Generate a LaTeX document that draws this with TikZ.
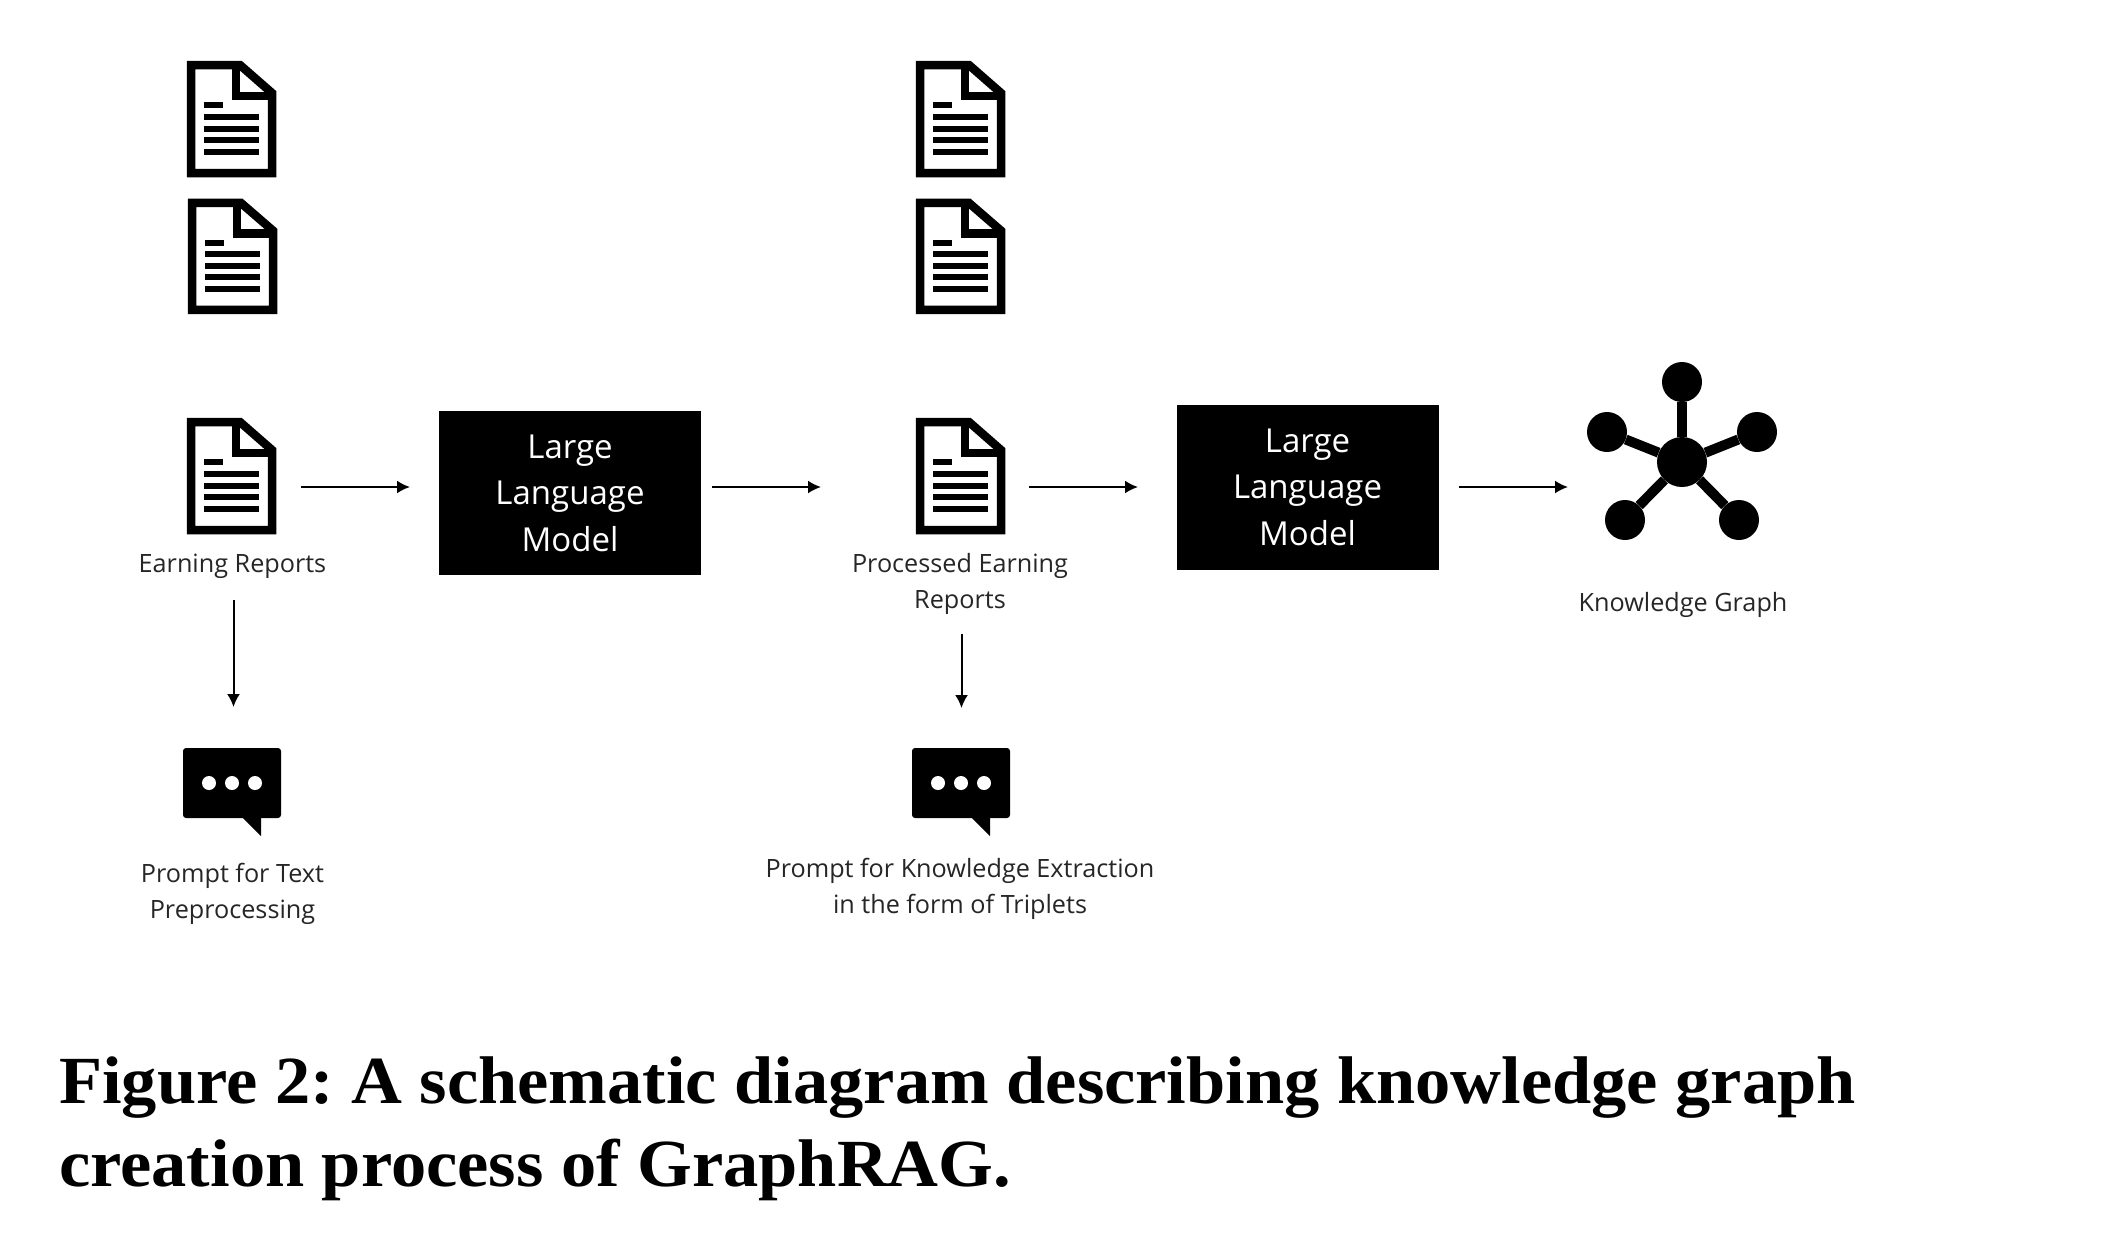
\documentclass[tikz,border=0pt]{standalone}
\usepackage{fontspec}
\setmainfont{Liberation Serif}
\newfontfamily\lab{Open Sans}
\newfontfamily\capfont[FakeStretch=1.045]{Liberation Serif}
\usetikzlibrary{arrows.meta}
\tikzset{
  x=1pt,y=-1pt,
  lbl/.style={font=\lab\fontsize{25.2}{36}\selectfont,text=black!85,align=center,inner sep=0pt,anchor=center},
  llm/.style={fill=black,text=white,font=\lab\fontsize{33}{46.5}\selectfont,align=center,inner sep=0pt},
  arr/.style={line width=2pt,-{Latex[length=13pt,width=13pt]}},
  captxt/.style={font=\capfont\bfseries\frenchspacing\fontsize{67.4}{84}\selectfont,anchor=base west,inner sep=0pt,text=black},
  doc/.pic={
    \draw[line width=8.5pt,miter limit=10] (4,4) -- (53,4) -- (85,32) -- (85,112) -- (4,112) -- cycle;
    \draw[line width=8.5pt] (49,4) -- (49,35) -- (85,35);
    \fill (17,41) rectangle (36,47);
    \foreach \yy in {53,64.5,76,87.5} \fill (17,\yy) rectangle (72,\yy+6);
  },
  bubble/.pic={
    \fill[rounded corners=3pt] (0,0) rectangle (98,70);
    \fill (59,69) -- (78,88) -- (78,69) -- cycle;
    \foreach \xx in {26,49,72} \fill[white] (\xx,35) circle (7);
  }
}
\begin{document}
\begin{tikzpicture}
\useasboundingbox (0,0) rectangle (2118,1240);
\fill[white] (0,0) rectangle (2118,1240);
% documents
\pic at (187,61) {doc};
\pic[yscale=0.99] at (188,199) {doc};
\pic at (187,418) {doc};
\pic at (916,61) {doc};
\pic[yscale=0.99] at (916,199) {doc};
\pic at (916,418) {doc};
% labels
\node[lbl] (earn) at (232.5,566) {Earning Reports};
\node[lbl] (proc) at (960,584) {Processed Earning\\Reports};
\node[lbl] (kg) at (1683,604.5) {Knowledge Graph};
\node[lbl] (ptxt) at (232.5,894) {Prompt for Text\\Preprocessing};
\node[lbl] (pkn) at (960,889) {Prompt for Knowledge Extraction\\in the form of Triplets};
% LLM boxes
\node[llm,minimum width=262pt,minimum height=164pt] (llmA) at (570,493) {Large\\Language\\Model};
\node[llm,minimum width=262pt,minimum height=165pt] (llmB) at (1307.5,487) {Large\\Language\\Model};
% graph
\node[circle,fill=black,minimum size=50pt,inner sep=0pt] (hub) at (1682,462) {};
\foreach \nm/\px/\py in {gT/1682/382,gL/1607/432,gR/1757/432,gBL/1625/520,gBR/1739/520}{
  \node[circle,fill=black,minimum size=40pt,inner sep=0pt] (\nm) at (\px,\py) {};
  \draw[line width=10pt] (hub) -- (\nm);
}
% bubbles
\pic at (183,748) {bubble};
\pic at (912,748) {bubble};
% arrow ends
\coordinate (a1s) at (301,487); \coordinate (a1e) at (410,487);
\coordinate (a2s) at (712,487); \coordinate (a2e) at (821,487);
\coordinate (a3s) at (1029,487); \coordinate (a3e) at (1138,487);
\coordinate (a4s) at (1459,487); \coordinate (a4e) at (1568,487);
\coordinate (a5s) at (233.5,600); \coordinate (a5e) at (233.5,707);
\coordinate (a6s) at (961.5,634); \coordinate (a6e) at (961.5,708);
\draw[arr] (a1s) -- (a1e);
\draw[arr] (a2s) -- (a2e);
\draw[arr] (a3s) -- (a3e);
\draw[arr] (a4s) -- (a4e);
\draw[arr] (a5s) -- (a5e);
\draw[arr] (a6s) -- (a6e);
% caption
\node[captxt] (capA) at (59,1103) {Figure 2: A schematic diagram describing knowledge graph};
\node[captxt] (capB) at (59,1186) {creation process of GraphRAG.};
\end{tikzpicture}
\end{document}
